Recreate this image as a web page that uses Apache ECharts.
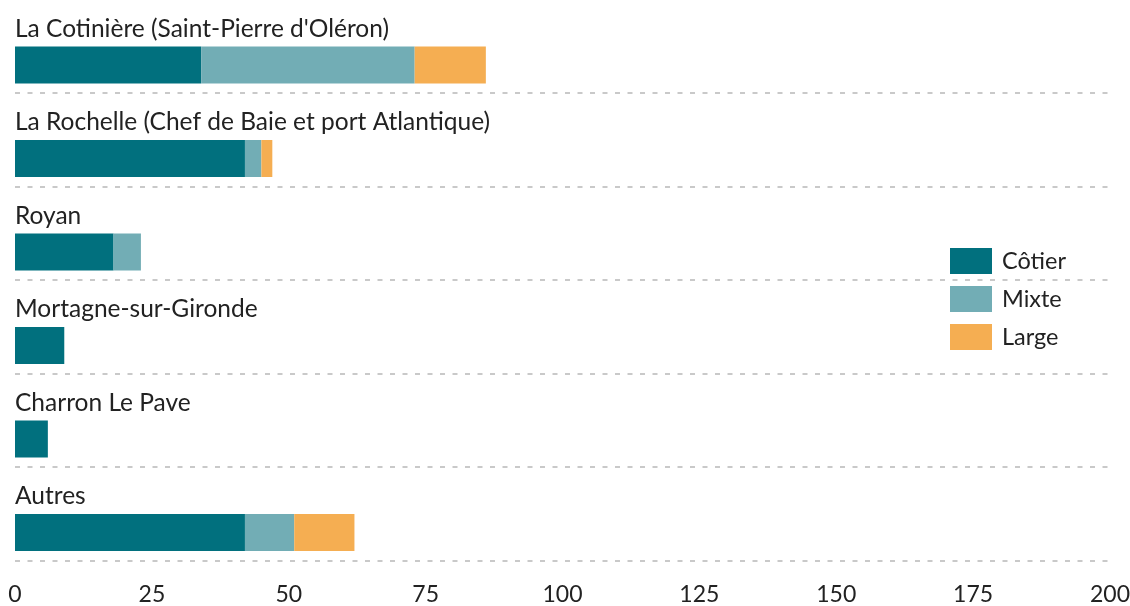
<!DOCTYPE html>
<html>
<head>
<meta charset="utf-8">
<script src="https://cdn.jsdelivr.net/npm/echarts@6/dist/echarts.min.js"></script>
<style>
  html, body { margin: 0; padding: 0; background: #fff; }
  #chart { width: 1130px; height: 606px; }
</style>
</head>
<body>
<div id="chart"></div>
<script>
const categories = [
  "La Cotinière (Saint-Pierre d'Oléron)",
  'La Rochelle (Chef de Baie et port Atlantique)',
  'Royan',
  'Mortagne-sur-Gironde',
  'Charron Le Pave',
  'Autres'
];
const cotier = [34, 42, 18, 9, 6, 42];
const mixte = [39, 3, 5, 0, 0, 9];
const large = [13, 2, 0, 0, 0, 11];
const xMin = 0;
const xMax = 200;
const xStep = 25;

const font = 'Lato, "Noto Sans", sans-serif';
const textColor = '#222';
const colors = ['#01707e', '#72adb5', '#f5ae52'];

const chart = echarts.init(document.getElementById('chart'));

const makeBar = (name, data, color) => ({
  name: name,
  type: 'bar',
  stack: 'total',
  xAxisIndex: 0,
  yAxisIndex: 0,
  barWidth: 37,
  itemStyle: { color: color },
  emphasis: { disabled: true },
  data: data
});

chart.setOption({
  animation: false,
  color: colors,
  textStyle: { fontFamily: font },
  grid: [
    // bars
    { left: 15, right: 20, top: 18.25, height: 561, outerBoundsMode: 'none', containLabel: false },
    // separators + value ticks
    { left: 15, right: 20, top: -0.5, height: 561, outerBoundsMode: 'none', containLabel: false }
  ],
  legend: {
    orient: 'vertical',
    left: 945,
    top: 243,
    icon: 'rect',
    itemWidth: 42,
    itemHeight: 26,
    itemGap: 12,
    selectedMode: false,
    textStyle: { fontFamily: font, fontSize: 23.5, color: textColor, padding: [0, 0, 0, 5] },
    data: ['Côtier', 'Mixte', 'Large']
  },
  xAxis: [
    {
      gridIndex: 0,
      type: 'value',
      min: xMin,
      max: xMax,
      interval: xStep,
      show: false
    },
    {
      gridIndex: 1,
      type: 'value',
      min: xMin,
      max: xMax,
      interval: xStep,
      axisLine: { show: false },
      axisTick: { show: false },
      splitLine: { show: false },
      axisLabel: {
        margin: 23,
        fontFamily: font,
        fontSize: 23,
        color: textColor
      }
    }
  ],
  yAxis: [
    {
      gridIndex: 0,
      type: 'category',
      inverse: true,
      data: categories,
      axisLine: { show: false },
      axisTick: { show: false },
      splitLine: { show: false },
      axisLabel: {
        inside: true,
        interval: 0,
        margin: 0,
        align: 'left',
        verticalAlign: 'bottom',
        lineHeight: 72,
        fontFamily: font,
        fontSize: 24.5,
        color: textColor
      }
    },
    {
      gridIndex: 1,
      type: 'category',
      inverse: true,
      data: categories,
      axisLine: { show: false },
      axisTick: { show: false },
      axisLabel: { show: false },
      splitLine: {
        show: true,
        interval: (i) => i > 0,
        lineStyle: { color: '#c9c9c9', width: 2, type: [5, 7.5] }
      }
    }
  ],
  series: [
    makeBar('Côtier', cotier, colors[0]),
    makeBar('Mixte', mixte, colors[1]),
    makeBar('Large', large, colors[2])
  ]
});
</script>
</body>
</html>
